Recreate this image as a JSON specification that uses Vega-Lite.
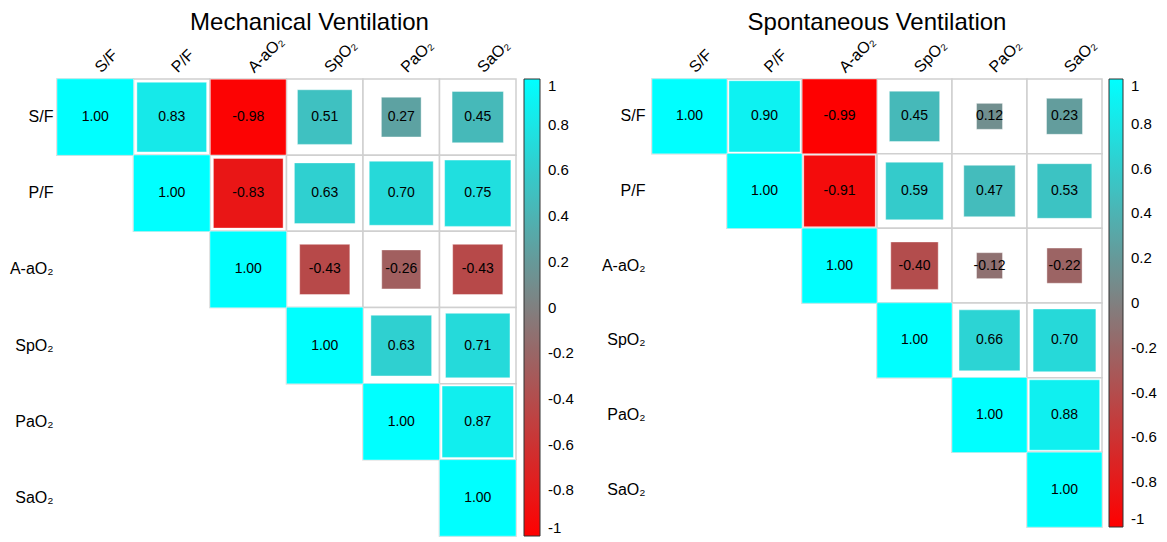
{
  "$schema": "https://vega.github.io/schema/vega-lite/v6.json",
  "padding": {"left": 5, "top": 10, "right": 0, "bottom": 0},
  "config": {
    "view": {"stroke": null},
    "font": "Liberation Sans",
    "locale": {"number": {"decimal": ".", "thousands": ",", "grouping": [3], "currency": ["$", ""], "minus": "-"}},
    "title": {"fontSize": 24, "fontWeight": "normal", "color": "#000000", "font": "Liberation Sans"},
    "axis": {"labelFont": "Liberation Sans", "labelColor": "#000000", "labelFontSize": 16, "domain": false, "ticks": false, "title": null, "grid": false},
    "legend": {"labelFont": "Liberation Sans", "labelColor": "#000000", "labelFontSize": 15}
  },
  "datasets": {
    "mv": [
      {"row": "S/F", "col": "S/F", "r": 1.00},
      {"row": "S/F", "col": "P/F", "r": 0.83},
      {"row": "S/F", "col": "A-aO₂", "r": -0.98},
      {"row": "S/F", "col": "SpO₂", "r": 0.51},
      {"row": "S/F", "col": "PaO₂", "r": 0.27},
      {"row": "S/F", "col": "SaO₂", "r": 0.45},
      {"row": "P/F", "col": "P/F", "r": 1.00},
      {"row": "P/F", "col": "A-aO₂", "r": -0.83},
      {"row": "P/F", "col": "SpO₂", "r": 0.63},
      {"row": "P/F", "col": "PaO₂", "r": 0.70},
      {"row": "P/F", "col": "SaO₂", "r": 0.75},
      {"row": "A-aO₂", "col": "A-aO₂", "r": 1.00},
      {"row": "A-aO₂", "col": "SpO₂", "r": -0.43},
      {"row": "A-aO₂", "col": "PaO₂", "r": -0.26},
      {"row": "A-aO₂", "col": "SaO₂", "r": -0.43},
      {"row": "SpO₂", "col": "SpO₂", "r": 1.00},
      {"row": "SpO₂", "col": "PaO₂", "r": 0.63},
      {"row": "SpO₂", "col": "SaO₂", "r": 0.71},
      {"row": "PaO₂", "col": "PaO₂", "r": 1.00},
      {"row": "PaO₂", "col": "SaO₂", "r": 0.87},
      {"row": "SaO₂", "col": "SaO₂", "r": 1.00}
    ],
    "sv": [
      {"row": "S/F", "col": "S/F", "r": 1.00},
      {"row": "S/F", "col": "P/F", "r": 0.90},
      {"row": "S/F", "col": "A-aO₂", "r": -0.99},
      {"row": "S/F", "col": "SpO₂", "r": 0.45},
      {"row": "S/F", "col": "PaO₂", "r": 0.12},
      {"row": "S/F", "col": "SaO₂", "r": 0.23},
      {"row": "P/F", "col": "P/F", "r": 1.00},
      {"row": "P/F", "col": "A-aO₂", "r": -0.91},
      {"row": "P/F", "col": "SpO₂", "r": 0.59},
      {"row": "P/F", "col": "PaO₂", "r": 0.47},
      {"row": "P/F", "col": "SaO₂", "r": 0.53},
      {"row": "A-aO₂", "col": "A-aO₂", "r": 1.00},
      {"row": "A-aO₂", "col": "SpO₂", "r": -0.40},
      {"row": "A-aO₂", "col": "PaO₂", "r": -0.12},
      {"row": "A-aO₂", "col": "SaO₂", "r": -0.22},
      {"row": "SpO₂", "col": "SpO₂", "r": 1.00},
      {"row": "SpO₂", "col": "PaO₂", "r": 0.66},
      {"row": "SpO₂", "col": "SaO₂", "r": 0.70},
      {"row": "PaO₂", "col": "PaO₂", "r": 1.00},
      {"row": "PaO₂", "col": "SaO₂", "r": 0.88},
      {"row": "SaO₂", "col": "SaO₂", "r": 1.00}
    ]
  },
  "hconcat": [
    {
      "title": {"text": "Mechanical Ventilation", "offset": -2, "dx": 23},
      "width": 459,
      "height": 457,
      "data": {"name": "mv"},
      "encoding": {
        "x": {"field": "col", "type": "nominal", "sort": ["S/F", "P/F", "A-aO₂", "SpO₂", "PaO₂", "SaO₂"],
              "scale": {"type": "band", "paddingInner": 0, "paddingOuter": 0},
              "axis": {"orient": "top", "labelAngle": -45, "labelAlign": "left", "labelBaseline": "bottom", "labelPadding": 4, "labelOffset": 8}},
        "y": {"field": "row", "type": "nominal", "sort": ["S/F", "P/F", "A-aO₂", "SpO₂", "PaO₂", "SaO₂"],
              "scale": {"type": "band", "paddingInner": 0, "paddingOuter": 0},
              "axis": {"labelAlign": "right", "labelPadding": 4, "minExtent": 52, "maxExtent": 52}}
      },
      "layer": [
        {"mark": {"type": "rect", "fill": "#ffffff", "stroke": "#d0d0d0", "strokeWidth": 1.5}},
        {"mark": {"type": "square", "opacity": 1, "stroke": "#ffffff", "strokeOpacity": 0.4, "strokeWidth": 1},
         "encoding": {
           "color": {"field": "r", "type": "quantitative",
                     "scale": {"domain": [-1, 0, 1], "range": ["#ff0000", "#808080", "#00ffff"], "interpolate": "rgb"},
                     "legend": {"type": "gradient", "title": null, "direction": "vertical", "gradientLength": 457, "gradientThickness": 16, "offset": 8,
                                "values": [-1, -0.8, -0.6, -0.4, -0.2, 0, 0.2, 0.4, 0.6, 0.8, 1], "labelOverlap": false,
                                "labelExpr": "datum.value + ''", "labelOffset": 8, "labelBaseline": "middle",
                                "gradientStrokeColor": "#333333", "gradientStrokeWidth": 1}},
           "size": {"field": "r", "type": "quantitative", "scale": {"domain": [-1.0001, 0, 1.0001], "range": [5853, 0, 5853]}, "legend": null}
         }},
        {"mark": {"type": "text", "fontSize": 14, "color": "#000000"},
         "encoding": {"text": {"field": "r", "type": "quantitative", "format": ".2f"}}}
      ]
    },
    {
      "title": {"text": "Spontaneous Ventilation", "offset": -2},
      "width": 450,
      "height": 448,
      "data": {"name": "sv"},
      "encoding": {
        "x": {"field": "col", "type": "nominal", "sort": ["S/F", "P/F", "A-aO₂", "SpO₂", "PaO₂", "SaO₂"],
              "scale": {"type": "band", "paddingInner": 0, "paddingOuter": 0},
              "axis": {"orient": "top", "labelAngle": -45, "labelAlign": "left", "labelBaseline": "bottom", "labelPadding": 4, "labelOffset": 8}},
        "y": {"field": "row", "type": "nominal", "sort": ["S/F", "P/F", "A-aO₂", "SpO₂", "PaO₂", "SaO₂"],
              "scale": {"type": "band", "paddingInner": 0, "paddingOuter": 0},
              "axis": {"labelAlign": "right", "labelPadding": 7, "minExtent": 52, "maxExtent": 52}}
      },
      "layer": [
        {"mark": {"type": "rect", "fill": "#ffffff", "stroke": "#d0d0d0", "strokeWidth": 1.5}},
        {"mark": {"type": "square", "opacity": 1, "stroke": "#ffffff", "strokeOpacity": 0.4, "strokeWidth": 1},
         "encoding": {
           "color": {"field": "r", "type": "quantitative",
                     "scale": {"domain": [-1, 0, 1], "range": ["#ff0000", "#808080", "#00ffff"], "interpolate": "rgb"},
                     "legend": {"type": "gradient", "title": null, "direction": "vertical", "gradientLength": 448, "gradientThickness": 14, "offset": 7,
                                "values": [-1, -0.8, -0.6, -0.4, -0.2, 0, 0.2, 0.4, 0.6, 0.8, 1], "labelOverlap": false,
                                "labelExpr": "datum.value + ''", "labelOffset": 8, "labelBaseline": "middle",
                                "gradientStrokeColor": "#333333", "gradientStrokeWidth": 1}},
           "size": {"field": "r", "type": "quantitative", "scale": {"domain": [-1.0001, 0, 1.0001], "range": [5626, 0, 5626]}, "legend": null}
         }},
        {"mark": {"type": "text", "fontSize": 14, "color": "#000000"},
         "encoding": {"text": {"field": "r", "type": "quantitative", "format": ".2f"}}}
      ]
    }
  ],
  "spacing": 26,
  "resolve": {"scale": {"color": "independent", "size": "independent", "x": "independent", "y": "independent"}, "legend": {"color": "independent"}}
}
